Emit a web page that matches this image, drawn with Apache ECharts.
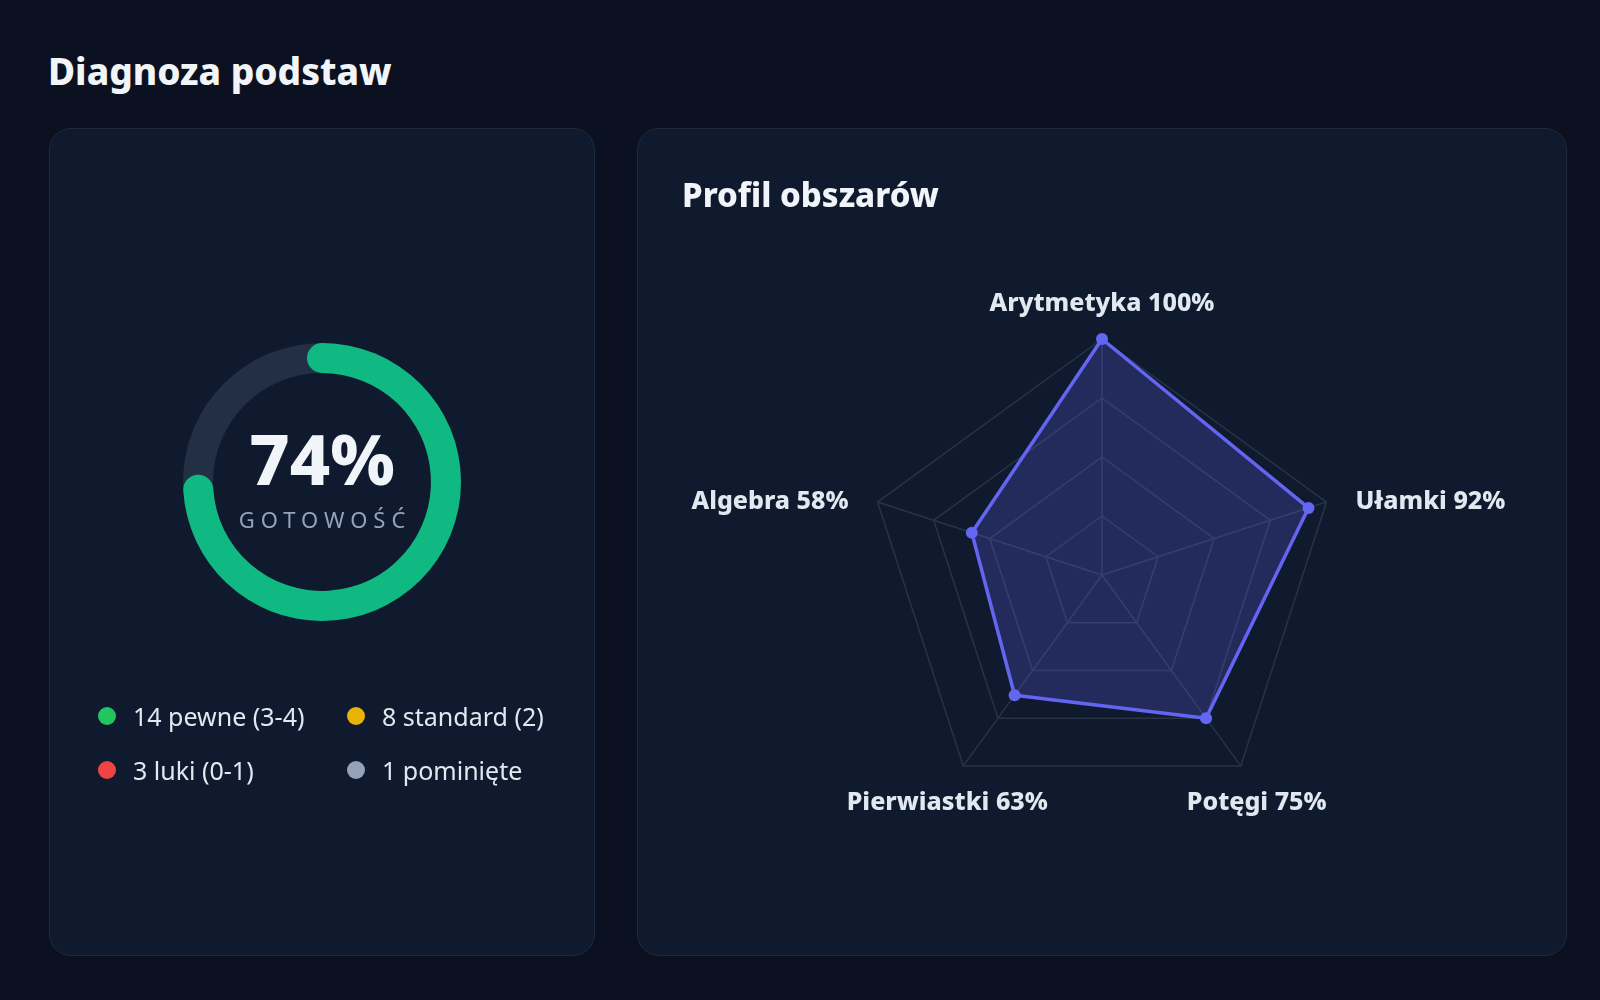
<!DOCTYPE html>
<html lang="pl">
<head>
<meta charset="UTF-8">
<title>Diagnoza podstaw</title>
<script src="https://cdn.jsdelivr.net/npm/echarts@6.0.0/dist/echarts.min.js"></script>
<style>
    html, body { margin: 0; padding: 0; }
    body {
        width: 1600px; height: 1000px; position: relative; overflow: hidden;
        background: #0b1121; font-family: "Noto Sans", sans-serif;
    }
    h1 {
        position: absolute; left: 48px; top: 52px; margin: 0;
        font-size: 37px; line-height: 1; font-weight: 800; color: #f1f5f9;
    }
    .card {
        position: absolute; top: 128px; height: 828px; box-sizing: border-box;
        background: #0f1a2e; border: 1px solid #1f2a3c; border-radius: 22px;
    }
    #leftCard { left: 49px; width: 546px; }
    #rightCard { left: 637px; width: 930px; }
    .chart { position: absolute; left: 0; top: 0; width: 100%; height: 100%; }
    h2 {
        position: absolute; left: 44px; top: 49px; margin: 0; z-index: 2;
        font-size: 33px; line-height: 1; font-weight: 800; color: #f1f5f9;
    }
    .gauge-sub {
        position: absolute; left: 0; width: 100%; top: 377px; z-index: 2;
        text-align: center; font-size: 22px; line-height: 26px;
        letter-spacing: 6px; text-indent: 6px; color: #94a3b8;
    }
    .legend {
        position: absolute; left: 48px; top: 570px; z-index: 2;
        display: grid; grid-template-columns: 249px 249px;
        grid-auto-rows: 34px; row-gap: 20px;
    }
    .legend-item { display: flex; align-items: center; font-size: 25px; color: #e2e8f0; white-space: nowrap; }
    .legend-dot { width: 18px; height: 18px; border-radius: 50%; margin-right: 17px; flex: none; }
</style>
</head>
<body>
<h1>Diagnoza podstaw</h1>
<div id="leftCard" class="card">
    <div id="gauge" class="chart"></div>
    <div class="gauge-sub">GOTOWOŚĆ</div>
    <div id="legend" class="legend"></div>
</div>
<div id="rightCard" class="card">
    <h2>Profil obszarów</h2>
    <div id="radar" class="chart"></div>
</div>
<script type="text/javascript">
    // dane
    var readiness = 74;

    var legendCounts = [14, 8, 3, 1];
    var legendLabels = ['pewne (3-4)', 'standard (2)', 'luki (0-1)', 'pominięte'];
    var legendColors = ['#22c55e', '#eab308', '#ef4444', '#94a3b8'];

    // kolejnosc przeciwna do ruchu wskazowek (tak rysuje radar)
    var areaNames = ['Arytmetyka', 'Algebra', 'Pierwiastki', 'Potęgi', 'Ułamki'];
    var areaScores = [100, 58, 63, 75, 92];

    // legenda
    var legendBox = document.getElementById('legend');
    for (var i = 0; i < legendCounts.length; i++) {
        var item = document.createElement('div');
        item.className = 'legend-item';
        var dot = document.createElement('span');
        dot.className = 'legend-dot';
        dot.style.background = legendColors[i];
        item.appendChild(dot);
        item.appendChild(document.createTextNode(legendCounts[i] + ' ' + legendLabels[i]));
        legendBox.appendChild(item);
    }

    // gotowosc
    var gauge = echarts.init(document.getElementById('gauge'));
    gauge.setOption({
        animation: false,
        series: [{
            type: 'gauge',
            center: ['50%', 353],
            radius: 139,
            startAngle: 90,
            endAngle: -270,
            min: 0,
            max: 100,
            pointer: { show: false },
            progress: { show: true, width: 30, roundCap: true, itemStyle: { color: '#10b981' } },
            axisLine: { lineStyle: { width: 30, color: [[1, '#222f45']] } },
            splitLine: { show: false },
            axisTick: { show: false },
            axisLabel: { show: false },
            title: { show: false },
            detail: {
                offsetCenter: [0, -17],
                formatter: '{value}%',
                fontSize: 70,
                fontWeight: 800,
                fontFamily: 'Noto Sans',
                color: '#f1f5f9'
            },
            data: [{ value: readiness }]
        }]
    });

    // profil obszarow
    var labelSize = 25;
    var labelWeight = 800;
    var ctx = document.createElement('canvas').getContext('2d');
    ctx.font = labelWeight + ' ' + labelSize + 'px "Noto Sans"';

    function labelText(i) {
        return areaNames[i] + ' ' + areaScores[i] + '%';
    }

    // przesuniecie etykiety od wierzcholka osi
    var rich = {};
    for (var k = 0; k < areaNames.length; k++) {
        var ang = (90 + k * 360 / areaNames.length) * Math.PI / 180;
        var c = Math.cos(ang), s = Math.sin(ang);
        var w = ctx.measureText(labelText(k)).width;
        var dx, dy;
        if (Math.abs(c) < 0.1) {
            dx = 0; dy = -35;
        } else if (s > 0.1) {
            dx = (c > 0 ? 1 : -1) * (29 + w / 2); dy = 0;
        } else {
            dx = (c > 0 ? 1 : -1) * 16; dy = 37;
        }
        rich['n' + k] = {
            fontSize: labelSize,
            fontWeight: labelWeight,
            fontFamily: 'Noto Sans',
            color: '#e2e8f0',
            padding: [Math.max(0, 2 * dy), Math.max(0, -2 * dx), Math.max(0, -2 * dy), Math.max(0, 2 * dx)]
        };
    }

    var radar = echarts.init(document.getElementById('radar'));
    radar.setOption({
        animation: false,
        radar: {
            center: ['50%', 446],
            radius: 236,
            startAngle: 90,
            splitNumber: 4,
            shape: 'polygon',
            nameGap: 0,
            indicator: areaNames.map(function (n) { return { name: n, min: 0, max: 100 }; }),
            axisName: {
                align: 'center',
                verticalAlign: 'middle',
                formatter: function (name) {
                    var idx = areaNames.indexOf(name);
                    return '{n' + idx + '|' + labelText(idx) + '}';
                },
                rich: rich
            },
            splitLine: { lineStyle: { color: '#283345', width: 1.5 } },
            splitArea: { show: false },
            axisLine: { lineStyle: { color: '#283345', width: 1.5 } }
        },
        series: [{
            type: 'radar',
            symbol: 'circle',
            symbolSize: 12,
            lineStyle: { width: 3.5, color: '#6366f1' },
            itemStyle: { color: '#6366f1' },
            areaStyle: { color: 'rgba(99,102,241,0.34)' },
            data: [{ name: 'Profil obszarów', value: areaScores }]
        }]
    });
</script>
</body>
</html>
